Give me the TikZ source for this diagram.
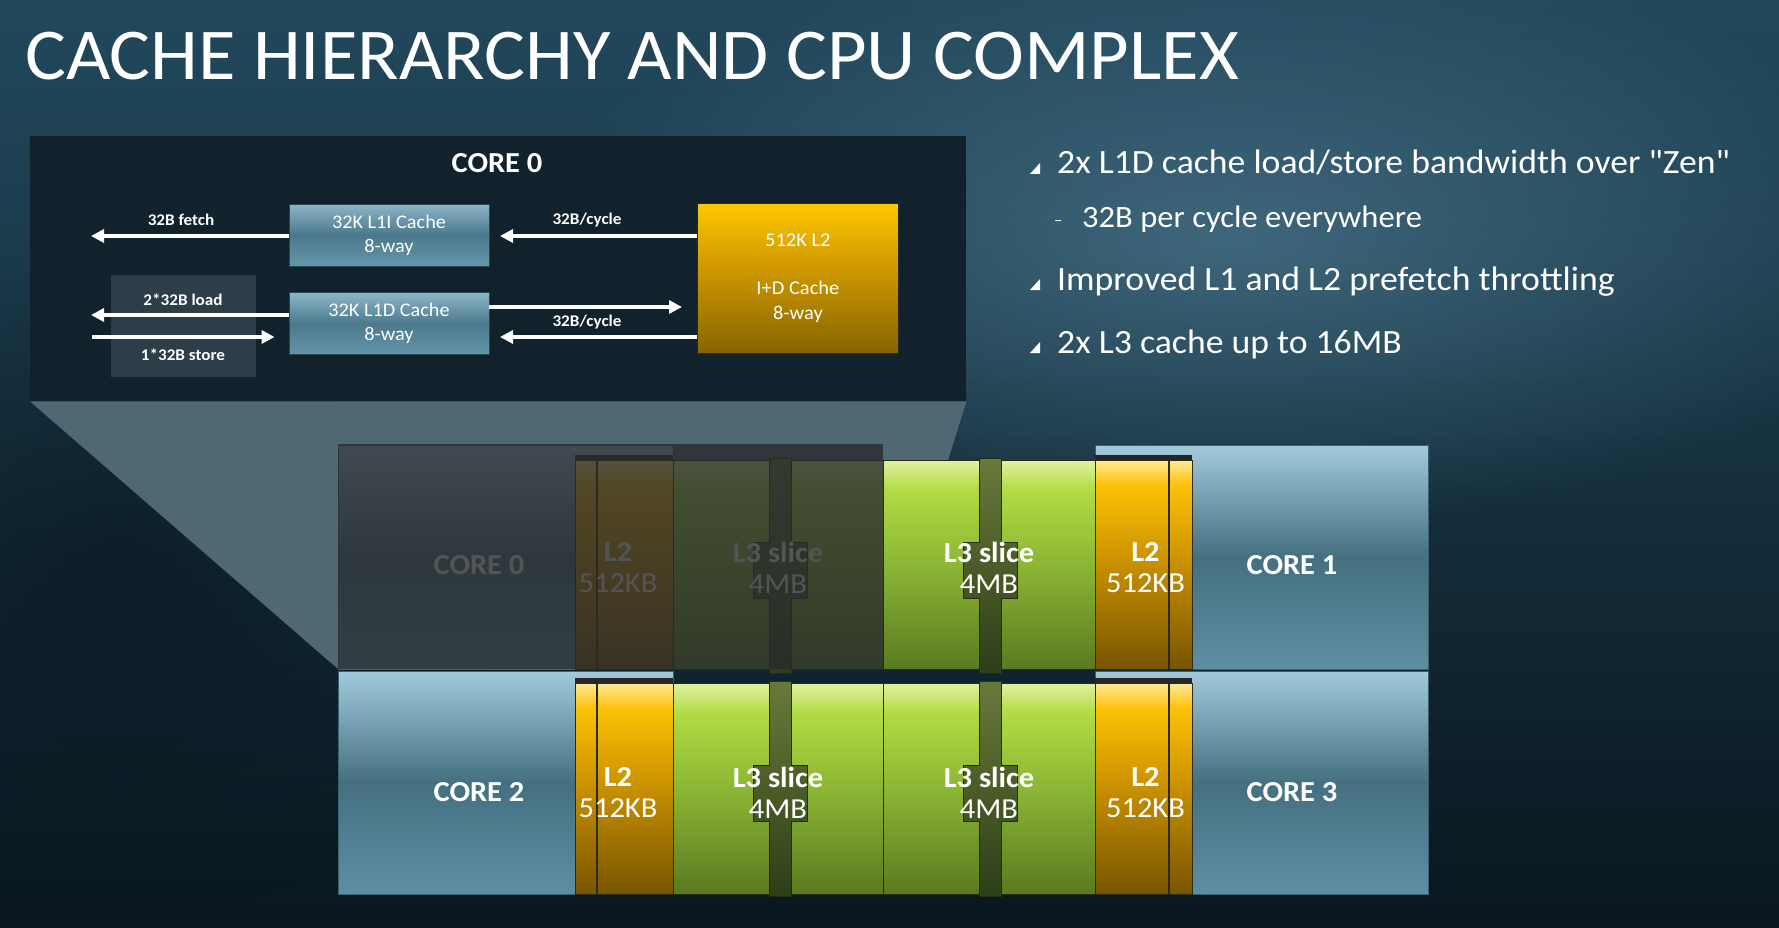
\documentclass[tikz,border=0pt]{standalone}
\usepackage{fontspec}
\setmainfont{Carlito}[FakeStretch=1.05,Ligatures=TeXOff]
\usepackage{xcolor}
\usetikzlibrary{positioning,arrows.meta,calc,fadings}

\definecolor{bgtop}{RGB}{34,72,92}
\definecolor{bgmid}{RGB}{22,50,65}
\definecolor{bgbot}{RGB}{9,22,30}
\definecolor{glowblue}{RGB}{92,138,162}
\definecolor{panelfill}{RGB}{18,34,44}
\definecolor{ldstfill}{RGB}{45,62,72}
\definecolor{beamfill}{RGB}{80,104,116}
\definecolor{coretop}{RGB}{162,202,220}
\definecolor{coremid}{RGB}{68,112,128}
\definecolor{corebot}{RGB}{94,142,162}
\definecolor{coreedge}{RGB}{60,96,112}
\definecolor{goldtop}{RGB}{255,234,150}
\definecolor{goldhi}{RGB}{252,194,8}
\definecolor{goldmid}{RGB}{205,148,0}
\definecolor{goldbot}{RGB}{120,84,0}
\definecolor{greentop}{RGB}{224,243,162}
\definecolor{greenhi}{RGB}{178,219,68}
\definecolor{greenmid}{RGB}{140,182,52}
\definecolor{greenbot}{RGB}{90,122,32}
\definecolor{bartop}{RGB}{104,122,58}
\definecolor{barbot}{RGB}{46,62,24}
\definecolor{edgedark}{RGB}{44,42,16}
\definecolor{l1top}{RGB}{140,182,200}
\definecolor{l1mid}{RGB}{76,120,140}
\definecolor{l1bot}{RGB}{100,150,170}
\definecolor{l1edge}{RGB}{40,70,84}
\definecolor{pgoldtop}{RGB}{252,200,0}
\definecolor{pgoldmid}{RGB}{210,155,0}
\definecolor{pgoldbot}{RGB}{135,100,0}
\definecolor{dimmer}{RGB}{40,42,44}

\pgfdeclareverticalshading{bgshade}{100bp}{color(0bp)=(bgbot); color(25bp)=(bgbot); color(52bp)=(bgmid); color(75bp)=(bgtop); color(100bp)=(bgtop)}
\pgfdeclareverticalshading{coreshade}{100bp}{color(0bp)=(corebot); color(25bp)=(corebot); color(50bp)=(coremid); color(75bp)=(coretop); color(100bp)=(coretop)}
\pgfdeclareverticalshading{goldshade}{100bp}{color(0bp)=(goldbot); color(25bp)=(goldbot); color(52bp)=(goldmid); color(69bp)=(goldhi); color(75bp)=(goldtop); color(100bp)=(goldtop)}
\pgfdeclareverticalshading{greenshade}{100bp}{color(0bp)=(greenbot); color(25bp)=(greenbot); color(50bp)=(greenmid); color(68bp)=(greenhi); color(75bp)=(greentop); color(100bp)=(greentop)}
\pgfdeclareverticalshading{barshade}{100bp}{color(0bp)=(barbot); color(25bp)=(barbot); color(75bp)=(bartop); color(100bp)=(bartop)}
\pgfdeclareverticalshading{l1shade}{100bp}{color(0bp)=(l1bot); color(25bp)=(l1bot); color(50bp)=(l1mid); color(75bp)=(l1top); color(100bp)=(l1top)}
\pgfdeclareverticalshading{pgoldshade}{100bp}{color(0bp)=(pgoldbot); color(25bp)=(pgoldbot); color(55bp)=(pgoldmid); color(75bp)=(pgoldtop); color(100bp)=(pgoldtop)}

\tikzfading[name=softblob, inner color=transparent!0, outer color=transparent!100]

\begin{document}
\begin{tikzpicture}[x=1pt,y=-1pt,
    corebox/.style={rectangle,inner sep=0pt,outer sep=0pt,anchor=north west,shading=coreshade,draw=coreedge,line width=0.6pt},
    l2cell/.style={rectangle,inner sep=0pt,outer sep=0pt,anchor=north west,shading=goldshade,draw=edgedark,line width=0.8pt},
    l3cell/.style={rectangle,inner sep=0pt,outer sep=0pt,anchor=north west,shading=greenshade,draw=edgedark,line width=0.8pt},
    celltext/.style={text=white,align=center,font=\fontsize{29}{31}\selectfont},
    corelabel/.style={text=white,font=\bfseries\fontsize{29}{32}\selectfont},
    l1box/.style={rectangle,inner sep=0pt,minimum width=200pt,minimum height=62pt,shading=l1shade,draw=l1edge,line width=0.8pt,text=white,align=center,font=\fontsize{19.3}{24}\selectfont},
    armlabel/.style={text=white,font=\bfseries\fontsize{16.3}{18}\selectfont},
    wharrow/.style={draw=white,line width=3.5pt,-{Triangle[length=13pt,width=13pt]}},
    bullettext/.style={text=white,anchor=base west,inner sep=0pt,font=\fontsize{34}{38}\selectfont},
    ringslot/.pic={
      \path[shading=barshade,draw=edgedark,line width=0.8pt]
        (-11,0) -- (-11,84) -- (-27,84) -- (-27,140) -- (-11,140) -- (-11,215)
        -- (11,215) -- (11,140) -- (27,140) -- (27,84) -- (11,84) -- (11,0) -- cycle;
    },
  ]
    % Background
    \fill[shading=bgshade] (0,0) rectangle (1779,928);
    \useasboundingbox (0,0) rectangle (1779,928);
    \fill[glowblue,opacity=0.55,path fading=softblob] (1230,240) ellipse (720 and 290);
    \fill[bgbot,opacity=0.6,path fading=softblob] (120,580) ellipse (380 and 340);

    % Title
    \node[anchor=base west,inner sep=0pt,text=white,font=\fontsize{73}{80}\selectfont] (title) at (25,80) {CACHE HIERARCHY AND CPU COMPLEX};

    % Core 0 detail panel
    \node[rectangle,inner sep=0pt,anchor=north west,fill=panelfill,minimum width=936pt,minimum height=265pt] (panel) at (30,136) {};
    \coordinate (beamL) at (338,669);
    \coordinate (beamR) at (883,669);
    \fill[beamfill] (panel.south west) -- (panel.south east) -- (beamR) -- (beamL) -- cycle;

    \node[text=white,font=\bfseries\fontsize{29}{32}\selectfont] (ptitle) at (497,163) {CORE 0};
    \node[rectangle,inner sep=0pt,anchor=north west,fill=ldstfill,minimum width=145pt,minimum height=102pt] (ldst) at (111,275) {};

    \node[l1box] (l1i) at (389,235) {32K L1I Cache\\8-way};
    \node[l1box,below=26pt of l1i] (l1d) {32K L1D Cache\\8-way};
    \node[rectangle,inner sep=0pt,anchor=north west,shading=pgoldshade,draw=edgedark,line width=0.8pt,
          minimum width=201pt,minimum height=150pt,text=white,align=center,font=\fontsize{19.5}{25}\selectfont]
          (l2big) at (697,203) {512K L2\\[23pt]I+D Cache\\8-way};

    % Arrows
    \coordinate (fetchend) at (91,236);
    \coordinate (loadend) at (91,315);
    \coordinate (storestart) at (92,337);
    \coordinate (rd2l1i) at (500,236);
    \coordinate (wr2l2) at (682,307);
    \coordinate (rd2l1d) at (500,337);
    \draw[wharrow] (l1i.west |- fetchend) -- (fetchend);
    \draw[wharrow] (l2big.west |- rd2l1i) -- (rd2l1i);
    \draw[wharrow] (l1d.west |- loadend) -- (loadend);
    \draw[wharrow] (storestart) -- ($(l1d.west |- storestart)+(-14,0)$);
    \draw[wharrow] (l1d.east |- wr2l2) -- (wr2l2);
    \draw[wharrow] (l2big.west |- rd2l1d) -- (rd2l1d);

    \node[armlabel] (fetchlab) at (181,220) {32B fetch};
    \node[armlabel] (cyclelab1) at (587,220) {32B/cycle};
    \node[armlabel] (loadlab) at (183,300) {2*32B load};
    \node[armlabel] (storelab) at (183,355) {1*32B store};
    \node[armlabel] (cyclelab2) at (587,322) {32B/cycle};

    % Bullets
    \node[bullettext] (b1) at (1057,174) {2x L1D cache load/store bandwidth over "Zen"};
    \node[bullettext,font=\fontsize{31}{36}\selectfont] (b1a) at (1082,227) {32B per cycle everywhere};
    \node[anchor=base west,inner sep=0pt,text=white,font=\fontsize{16}{18}\selectfont] (dash1) at (1054,225) {–};
    \node[bullettext] (b2) at (1057,290) {Improved L1 and L2 prefetch throttling};
    \node[bullettext] (b3) at (1057,353) {2x L3 cache up to 16MB};
    \fill[white] ($(b1.base west)+(-17,0)$) -- ++(0,-11) -- ++(-10,11) -- cycle;
    \fill[white] ($(b2.base west)+(-17,0)$) -- ++(0,-11) -- ++(-10,11) -- cycle;
    \fill[white] ($(b3.base west)+(-17,0)$) -- ++(0,-11) -- ++(-10,11) -- cycle;

    % CPU complex, top row
    \node[corebox,minimum width=335pt,minimum height=224pt] (core0) at (338,445) {};
    \node[corebox,minimum width=333pt,minimum height=224pt] (core1) at (1095,445) {};
    \node[l2cell,minimum width=98pt,minimum height=209pt] (l2a) at (575,460) {};
    \node[l3cell,minimum width=210pt,minimum height=209pt] (l3a) at (673,460) {};
    \node[l3cell,minimum width=212pt,minimum height=209pt] (l3b) at (883,460) {};
    \node[l2cell,minimum width=97pt,minimum height=209pt] (l2b) at (1095,460) {};
    \fill[black!85] ([yshift=5pt]l2a.north west) rectangle (l2a.north east);
    \fill[black!85] ([yshift=5pt]l2b.north west) rectangle (l2b.north east);
    \draw[edgedark,line width=1.2pt] ([xshift=22pt]l2a.north west) -- ([xshift=22pt]l2a.south west);
    \draw[edgedark,line width=1.2pt] ([xshift=-23pt]l2b.north east) -- ([xshift=-23pt]l2b.south east);
    \pic at (780,458) {ringslot};
    \pic at (990,458) {ringslot};

    \node[corelabel] (core0lab) at (479,565) {CORE 0};
    \node[corelabel] (core1lab) at (1292,565) {CORE 1};
    \node[celltext] (l2alab) at ([xshift=-6pt,yshift=-3pt]l2a.center) {\textbf{L2}\\512KB};
    \node[celltext] (l3alab) at ([yshift=-3pt]l3a.center) {\textbf{L3 slice}\\4MB};
    \node[celltext] (l3blab) at ([yshift=-3pt]l3b.center) {\textbf{L3 slice}\\4MB};
    \node[celltext] (l2blab) at ([xshift=2pt,yshift=-3pt]l2b.center) {\textbf{L2}\\512KB};

    % core 0 is dimmed
    \fill[dimmer,opacity=0.8] ([yshift=1pt]core0.north west) rectangle (l3a.south east);

    % CPU complex, bottom row
    \node[corebox,minimum width=335pt,minimum height=223pt] (core2) at (338,671) {};
    \node[corebox,minimum width=333pt,minimum height=223pt] (core3) at (1095,671) {};
    \node[l2cell,minimum width=98pt,minimum height=211pt] (l2c) at (575,683) {};
    \node[l3cell,minimum width=210pt,minimum height=211pt] (l3c) at (673,683) {};
    \node[l3cell,minimum width=212pt,minimum height=211pt] (l3d) at (883,683) {};
    \node[l2cell,minimum width=97pt,minimum height=211pt] (l2d) at (1095,683) {};
    \fill[black!85] ([yshift=5pt]l2c.north west) rectangle (l2c.north east);
    \fill[black!85] ([yshift=5pt]l2d.north west) rectangle (l2d.north east);
    \draw[edgedark,line width=1.2pt] ([xshift=22pt]l2c.north west) -- ([xshift=22pt]l2c.south west);
    \draw[edgedark,line width=1.2pt] ([xshift=-23pt]l2d.north east) -- ([xshift=-23pt]l2d.south east);
    \pic at (780,681) {ringslot};
    \pic at (990,681) {ringslot};

    \node[corelabel] (core2lab) at (479,792) {CORE 2};
    \node[corelabel] (core3lab) at (1292,792) {CORE 3};
    \node[celltext] (l2clab) at ([xshift=-6pt,yshift=-4.5pt]l2c.center) {\textbf{L2}\\512KB};
    \node[celltext] (l3clab) at ([yshift=-4.5pt]l3c.center) {\textbf{L3 slice}\\4MB};
    \node[celltext] (l3dlab) at ([yshift=-4.5pt]l3d.center) {\textbf{L3 slice}\\4MB};
    \node[celltext] (l2dlab) at ([xshift=2pt,yshift=-4.5pt]l2d.center) {\textbf{L2}\\512KB};
\end{tikzpicture}
\end{document}
